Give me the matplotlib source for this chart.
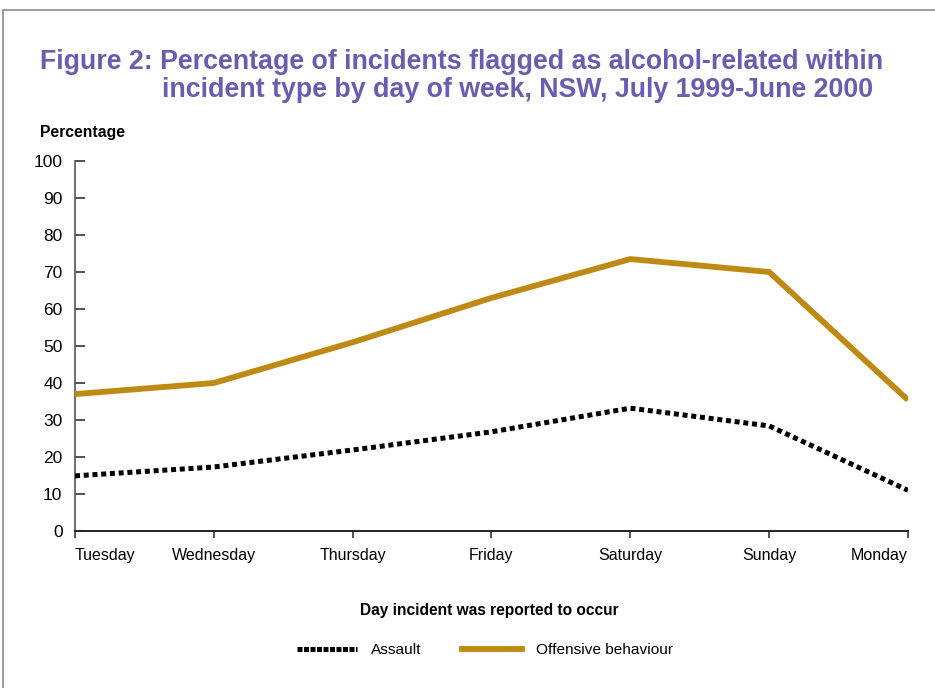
import matplotlib
matplotlib.use('Agg')
import matplotlib.pyplot as plt
from matplotlib.patches import Rectangle
from matplotlib.lines import Line2D

plt.rcParams['font.family'] = ['Liberation Sans', 'DejaVu Sans']

# ── Data ──
days = ['Tuesday', 'Wednesday', 'Thursday', 'Friday', 'Saturday', 'Sunday', 'Monday']
assault = [14.9, 17.3, 21.9, 26.8, 33.2, 28.4, 11.0]
offensive = [37.0, 40.0, 51.0, 63.0, 73.5, 70.0, 35.4]

orange = '#BE8A14'
title_col = '#6A5CB0'

fig = plt.figure(figsize=(9.35, 6.88), dpi=100)
W, H = 935, 688

# outer frame
fig.patches.append(Rectangle((3 / W, -0.05), 1.2, (H - 10) / H + 0.05,
                             transform=fig.transFigure, fill=False,
                             edgecolor='#8C8C8C', linewidth=1.2))

ax = fig.add_axes([75 / W, 1 - 531 / H, (908 - 75) / W, (531 - 161) / H])

x = list(range(len(days)))
ax.plot(x, offensive, color=orange, linewidth=4.2, solid_capstyle='butt',
        solid_joinstyle='miter', zorder=3)
ax.plot(x, assault, color='black', linewidth=3.6, linestyle=(0, (1.0, 0.75)),
        dash_capstyle='butt', zorder=3)

ax.set_xlim(0, len(days) - 1)
ax.set_ylim(0, 100)
ax.set_yticks(range(0, 101, 10))
ax.set_xticks(x)
ax.set_xticklabels(days)
labels = ax.get_xticklabels()
labels[0].set_horizontalalignment('left')
labels[-1].set_horizontalalignment('right')

for s in ['top', 'right']:
    ax.spines[s].set_visible(False)
ax.spines['left'].set_color('#555555')
ax.spines['left'].set_linewidth(1.2)
ax.spines['bottom'].set_color('#222222')
ax.spines['bottom'].set_linewidth(1.4)

ax.tick_params(axis='y', direction='in', length=7, width=1.2, color='#333333',
               labelsize=12.5, pad=9)
ax.tick_params(axis='x', direction='out', length=5, width=1.2, color='#333333',
               labelsize=11.5, pad=7)

fig.text(40 / W, 1 - 62 / H, 'Figure 2: Percentage of incidents flagged as alcohol-related within',
         fontsize=19.3, fontweight='bold', color=title_col, va='center')
fig.text(162 / W, 1 - 90 / H, 'incident type by day of week, NSW, July 1999-June 2000',
         fontsize=19.3, fontweight='bold', color=title_col, va='center')

fig.text(40 / W, 1 - 133 / H, 'Percentage', fontsize=11.3, fontweight='bold', va='center')
fig.text(489 / W, 1 - 610 / H, 'Day incident was reported to occur', fontsize=11.2,
         fontweight='bold', ha='center', va='center')

handles = [Line2D([], [], color='black', linewidth=3.6, linestyle=(0, (1.0, 0.3))),
           Line2D([], [], color=orange, linewidth=4.2)]
fig.legend(handles, ['Assault', 'Offensive behaviour'], loc='center',
           bbox_to_anchor=(485 / W, 1 - 650 / H), ncol=2, frameon=False,
           fontsize=11.1, handlelength=3.9, columnspacing=2.6, handletextpad=0.9)

plt.savefig('out.png', dpi=100)
